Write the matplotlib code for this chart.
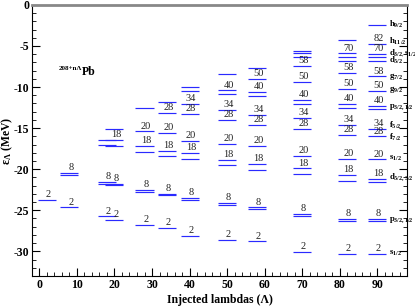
import matplotlib
matplotlib.use('Agg')
import matplotlib.pyplot as plt
from matplotlib.ticker import MultipleLocator

plt.rcParams['font.family'] = ['Liberation Serif', 'DejaVu Serif']
plt.rcParams['mathtext.fontset'] = 'custom'
plt.rcParams['mathtext.rm'] = 'Liberation Serif'
plt.rcParams['mathtext.it'] = 'Liberation Serif:italic'
plt.rcParams['mathtext.bf'] = 'Liberation Serif:bold'
plt.rcParams['axes.unicode_minus'] = False

# number of injected lambdas for each column of levels
lambdas = [2, 8, 18, 20, 28, 34, 40, 50, 58, 70, 82, 90]

# single-particle lambda energies (MeV), one list per column
levels = [
    [-23.7],
    [-24.65, -20.45, -20.7],
    [-25.75, -21.55, -21.75, -16.4, -17.05],
    [-26.15, -21.75, -21.95, -16.45, -17.15, -15.05],
    [-26.8, -22.5, -22.75, -17.2, -17.9, -15.4, -12.6],
    [-27.15, -23.0, -23.2, -17.75, -18.4, -15.6, -13.1, -11.8],
    [-28.1, -23.45, -23.7, -18.05, -18.8, -16.55, -13.3, -12.1, -10.05, -10.45],
    [-28.6, -24.1, -24.35, -18.9, -19.5, -16.9, -14.0, -12.8, -10.4, -10.9, -8.35],
    [-28.8, -24.65, -24.85, -19.4, -20.1, -17.15, -14.65, -13.4, -10.6, -11.1, -9.0, -7.7],
    [-30.05, -25.45, -25.7, -19.9, -20.6, -18.4, -15.05, -13.8, -11.6, -12.1, -9.35, -7.45,
     -5.6, -5.9, -6.4],
    [-30.3, -26.05, -26.35, -20.7, -21.4, -18.7, -15.85, -14.65, -12.1, -12.5, -10.2, -8.25,
     -5.9, -6.3, -6.8, -4.3],
    [-30.3, -26.05, -26.3, -21.2, -21.6, -18.8, -16.0, -15.05, -12.3, -12.7, -10.5, -8.7,
     -6.0, -6.4, -6.8, -4.7, -2.4],
]

# shell closure numbers written above the levels ('' = none)
magic = [
    ['2'],
    ['2', '8', ''],
    ['2', '8', '', '', ''],
    ['2', '8', '', '18', '', ''],
    ['2', '8', '', '18', '', '20', ''],
    ['2', '8', '', '18', '', '20', '28', ''],
    ['2', '8', '', '18', '', '20', '28', '34', '', ''],
    ['2', '8', '', '18', '', '20', '28', '34', '40', '', ''],
    ['2', '8', '', '18', '', '20', '28', '34', '40', '', '50', ''],
    ['2', '8', '', '18', '', '20', '28', '34', '40', '', '50', '58', '', '', ''],
    ['2', '8', '', '18', '', '20', '28', '34', '40', '', '50', '58', '70', '', '', ''],
    ['2', '8', '', '18', '', '20', '28', '34', '40', '', '50', '58', '70', '', '', '82', ''],
]

# orbital names next to the last column
orbit_names = [r'h$_{\mathbf{9/2}}$', r'h$_{\mathbf{11/2}}$', r'd$_{\mathbf{3/2},}$s$_{\mathbf{1/2}}$',
               r'd$_{\mathbf{5/2}}$', r'g$_{\mathbf{7/2}}$', r'g$_{\mathbf{9/2}}$',
               r'p$_{\mathbf{3/2,1/2}}$', r'f$_{\mathbf{5/2}}$', r'f$_{\mathbf{7/2}}$',
               r's$_{\mathbf{1/2}}$', r'd$_{\mathbf{5/2,3/2}}$', r'p$_{\mathbf{3/2,1/2}}$',
               r's$_{\mathbf{1/2}}$']
orbit_y = [-2.4, -4.4, -5.85, -6.8, -8.7, -10.35, -12.5, -14.7, -16.1, -18.7, -21.0, -26.15, -30.2]

fig = plt.figure(figsize=(4.15, 3.07), dpi=100)
ax = fig.add_axes([0.077, 0.101, 0.904, 0.883])

half = 2.4
for lam, ys, labs in zip(lambdas, levels, magic):
    ax.hlines(ys, lam - half, lam + half, colors='#2a2aff', lw=0.85)
    for y, t in zip(ys, labs):
        if t:
            ax.text(lam + 0.4, y + 0.1, t, ha='center', va='bottom',
                    fontsize=7.5, color='#222222')

for name, y in zip(orbit_names, orbit_y):
    ax.text(93.3, y, name, ha='left', va='center', fontsize=6.3, fontweight='bold')

ax.text(5.0, -7.7, '208+nΛ', fontsize=5, fontweight='bold', ha='left', va='center')
ax.text(11.2, -8.2, 'Pb', fontsize=8.5, fontweight='bold', ha='left', va='center')

ax.set_xlim(-2, 98)
ax.set_ylim(-33, 0)
ax.xaxis.set_major_locator(MultipleLocator(10))
ax.xaxis.set_minor_locator(MultipleLocator(2))
ax.yaxis.set_major_locator(MultipleLocator(5))
ax.yaxis.set_minor_locator(MultipleLocator(1))
ax.set_xticks(range(0, 100, 10))
ax.tick_params(which='both', direction='in', right=True, top=False)
ax.tick_params(which='major', length=6, labelsize=8.5, pad=2)
ax.tick_params(which='minor', length=3)
for lab in ax.get_xticklabels() + ax.get_yticklabels():
    lab.set_fontweight('bold')
ax.spines['top'].set_color('#888888')
ax.spines['top'].set_linewidth(2)

ax.set_xlabel('Injected lambdas (Λ)', fontsize=8.5, fontweight='bold', labelpad=2)
ax.set_ylabel(r'ε$_{\mathbf{Λ}}$ (MeV)', fontsize=8.5, fontweight='bold', labelpad=-1)

fig.savefig('out.png', dpi=100)
